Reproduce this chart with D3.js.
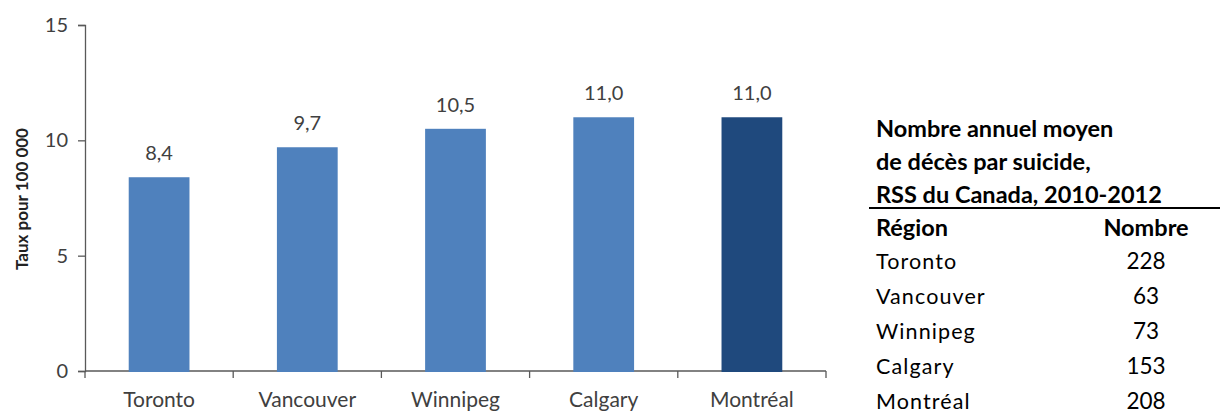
<!DOCTYPE html>
<html><head><meta charset="utf-8">
<script src="https://cdn.jsdelivr.net/npm/d3@7/dist/d3.min.js"></script>
<style>body{margin:0;background:#fff}svg{display:block}</style>
</head><body><svg id="c" width="1220" height="414"></svg>
<script>
const categories = ["Toronto","Vancouver","Winnipeg","Calgary","Montréal"];
const rates = [8.4, 9.7, 10.5, 11.0, 11.0];
const rateLabels = ["8,4","9,7","10,5","11,0","11,0"];
const yTicks = [0,5,10,15];
const tableTitle = ["Nombre annuel moyen","de décès par suicide,","RSS du Canada, 2010-2012"];
const tableHeader = ["Région","Nombre"];
const tableRegions = ["Toronto","Vancouver","Winnipeg","Calgary","Montréal"];
const tableCounts = [228, 63, 73, 153, 208];

const svg = d3.select("#c");
const font = "Lato, 'Open Sans', sans-serif";
const txt = "#404040";
const axisCol = "#595959";

const x = d3.scaleBand().domain(categories).range([85, 826]).padding(0);
const y = d3.scaleLinear().domain([0,15]).range([371, 25]);
const barW = x.bandwidth()*0.41;

// y axis
const ya = svg.append("g").attr("transform","translate(85,0)")
  .call(d3.axisLeft(y).tickValues(yTicks).tickSize(7).tickPadding(10).tickFormat(d3.format("d")));
ya.select(".domain").attr("stroke",axisCol).attr("stroke-width",1.3);
ya.selectAll(".tick line").attr("stroke",axisCol).attr("stroke-width",1.3);
ya.selectAll(".tick text").attr("fill",txt).style("font-family",font).style("font-size","20px");

// x axis (line + boundary ticks)
svg.append("line").attr("x1",85).attr("x2",826).attr("y1",y(0)).attr("y2",y(0))
  .attr("stroke",axisCol).attr("stroke-width",1.3);
const bounds = categories.map(c=>x(c)+x.bandwidth()).concat([x(categories[0])]);
svg.selectAll("line.xt").data(bounds).join("line").attr("class","xt")
  .attr("x1",d=>d).attr("x2",d=>d).attr("y1",y(0)).attr("y2",y(0)+7)
  .attr("stroke",axisCol).attr("stroke-width",1.3);
svg.selectAll("text.xl").data(categories).join("text").attr("class","xl")
  .attr("x",d=>x(d)+x.bandwidth()/2).attr("y",407).attr("text-anchor","middle")
  .attr("fill",txt).style("font-family",font).style("font-size","21px").text(d=>d);

// bars
svg.selectAll("rect.bar").data(categories).join("rect").attr("class","bar")
  .attr("x",d=>x(d)+x.bandwidth()/2-barW/2).attr("width",barW)
  .attr("y",(d,i)=>y(rates[i])).attr("height",(d,i)=>y(0)-y(rates[i])+1)
  .attr("fill",(d,i)=>i===4?"#1F497D":"#4F81BD");
svg.selectAll("text.vl").data(categories).join("text").attr("class","vl")
  .attr("x",d=>x(d)+x.bandwidth()/2).attr("y",(d,i)=>y(rates[i])-17).attr("text-anchor","middle")
  .attr("fill",txt).style("font-family",font).style("font-size","20px").text((d,i)=>rateLabels[i]);

// y title
svg.append("text").attr("transform","translate(28,199) rotate(-90)").attr("text-anchor","middle")
  .attr("fill","#222").style("font-family",font).style("font-weight","bold").style("font-size","17px")
  .text("Taux pour 100 000");

// table
const tx = 876, numX = 1146;
const rowY = i => 269 + i*35;
svg.selectAll("text.tt").data(tableTitle).join("text").attr("class","tt")
  .attr("x",tx).attr("y",(d,i)=>137+i*33).attr("fill","#000")
  .style("font-family",font).style("font-weight","bold").style("font-size","23.5px").text(d=>d);
svg.append("line").attr("x1",869).attr("x2",1220).attr("y1",208).attr("y2",208)
  .attr("stroke","#000").attr("stroke-width",2);
svg.append("text").attr("x",tx).attr("y",236).style("font-family",font).style("font-weight","bold")
  .style("font-size","23.5px").text(tableHeader[0]);
svg.append("text").attr("x",numX).attr("y",236).attr("text-anchor","middle").style("font-family",font)
  .style("font-weight","bold").style("font-size","23.5px").text(tableHeader[1]);
svg.selectAll("text.tr").data(tableRegions).join("text").attr("class","tr")
  .attr("x",tx).attr("y",(d,i)=>rowY(i)).style("font-family",font).style("font-size","21.5px")
  .style("letter-spacing","1.1px").text(d=>d);
svg.selectAll("text.tn").data(tableCounts).join("text").attr("class","tn")
  .attr("x",numX).attr("y",(d,i)=>rowY(i)).attr("text-anchor","middle").style("font-family",font)
  .style("font-size","22.5px").text(d=>d);
</script></body></html>
